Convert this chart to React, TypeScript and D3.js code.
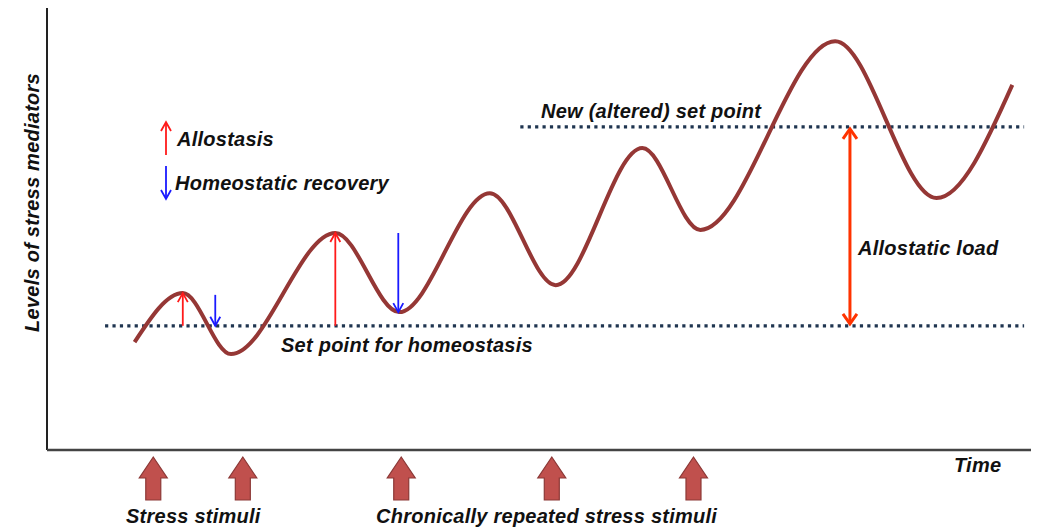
import * as d3 from 'd3'

// Curve of stress-mediator levels over time (extrema)
const curveTime = [8.9, 13.8, 18.7, 29.3, 35.8, 45.0, 51.7, 60.5, 66.4, 80.1, 90.4, 98.1]
const curveLevel = [24.4, 35.5, 21.7, 49.1, 31.2, 58.1, 37.3, 68.3, 49.8, 92.5, 57.0, 82.6]

const setPoint = 28.1
const newSetPoint = 73.1

// stress stimuli along the time axis
const stimuliTime = [10.8, 19.9, 36.0, 51.3, 65.7]

// allostasis (red, up) and recovery (blue, down) arrows
const allostasisArrows = [
  { t: 13.8, from: 28.1, to: 35.5 },
  { t: 29.3, from: 28.1, to: 49.1 },
]
const recoveryArrows = [
  { t: 17.1, from: 35.1, to: 28.1 },
  { t: 35.7, from: 49.1, to: 31.2 },
]
const loadTime = 81.6

const width = 1038
const height = 527
const margin = { left: 47, right: 7, top: 8, bottom: 77 }

const FONT = '"Liberation Sans", Arial, sans-serif'

export default function App() {
  const x = d3.scaleLinear().domain([0, 100]).range([margin.left, width - margin.right])
  const y = d3.scaleLinear().domain([0, 100]).range([height - margin.bottom, margin.top])

  const line = d3
    .line<number>()
    .x((_, i) => x(curveTime[i]))
    .y(d => y(d))
    .curve(d3.curveMonotoneX)

  const textStyle = {
    fontFamily: FONT,
    fontWeight: 700,
    fontStyle: 'italic',
    fontSize: 20,
    letterSpacing: 0.25,
    fill: '#111',
  } as const

  const thinArrow = (key: string, xp: number, y0: number, y1: number, color: string) => {
    const dir = y1 < y0 ? 1 : -1
    return (
      <g key={key} stroke={color} strokeWidth={1.8} fill="none">
        <line x1={xp} x2={xp} y1={y0} y2={y1} />
        <polyline points={`${xp - 5},${y1 + dir * 9} ${xp},${y1} ${xp + 5},${y1 + dir * 9}`} />
      </g>
    )
  }

  const blockArrow = (key: string, cx: number, top: number) => {
    const hw = 14
    const sw = 7.5
    const headH = 21
    const h = 43
    const d = `M${cx},${top} L${cx + hw},${top + headH} L${cx + sw},${top + headH} L${cx + sw},${top + h} L${cx - sw},${top + h} L${cx - sw},${top + headH} L${cx - hw},${top + headH} Z`
    return <path key={key} d={d} fill="#c0504d" stroke="#8c3836" strokeWidth={1.2} />
  }

  const yBase = height - margin.bottom
  const lx = x(loadTime)

  return (
    <svg width={width} height={height} style={{ position: 'absolute', left: 0, top: 0, background: '#fff' }}>
      {/* axes */}
      <line x1={x(0)} x2={x(0)} y1={y(100)} y2={yBase} stroke="#222" strokeWidth={2} />
      <line x1={x(0)} x2={x(100)} y1={yBase} y2={yBase} stroke="#444" strokeWidth={2.5} />

      {/* set point lines */}
      <line x1={x(5.9)} x2={x(99.3)} y1={y(setPoint)} y2={y(setPoint)} stroke="#1f3550" strokeWidth={3.2} strokeDasharray="3.2 4.2" />
      <line x1={x(48.1)} x2={x(99.3)} y1={y(newSetPoint)} y2={y(newSetPoint)} stroke="#1f3550" strokeWidth={3.2} strokeDasharray="3.2 4.2" />

      {/* curve */}
      <path d={line(curveLevel) ?? ''} fill="none" stroke="#953735" strokeWidth={4} />

      {/* allostasis / recovery arrows */}
      {allostasisArrows.map((a, i) => thinArrow(`r${i}`, x(a.t), y(a.from), y(a.to), '#ff1a1a'))}
      {recoveryArrows.map((a, i) => thinArrow(`b${i}`, x(a.t), y(a.from), y(a.to), '#1a1aff'))}

      {/* legend */}
      {thinArrow('lr', 166, 155, 122, '#ff1a1a')}
      {thinArrow('lb', 166, 166, 199, '#1a1aff')}
      <text x={177} y={146} style={textStyle}>Allostasis</text>
      <text x={175} y={190} style={textStyle}>Homeostatic recovery</text>

      {/* allostatic load */}
      <g stroke="#ff3300" strokeWidth={3} fill="none">
        <line x1={lx} x2={lx} y1={y(newSetPoint) + 2} y2={y(setPoint) - 2} />
        <polyline points={`${lx - 7},${y(newSetPoint) + 12} ${lx},${y(newSetPoint) + 2} ${lx + 7},${y(newSetPoint) + 12}`} />
        <polyline points={`${lx - 7},${y(setPoint) - 12} ${lx},${y(setPoint) - 2} ${lx + 7},${y(setPoint) - 12}`} />
      </g>
      <text x={858} y={255} style={textStyle}>Allostatic load</text>

      {/* labels */}
      <text x={541} y={118} style={textStyle}>New (altered) set point</text>
      <text x={281} y={352} style={textStyle}>Set point for homeostasis</text>
      <text x={954} y={472} style={textStyle}>Time</text>
      <text
        transform={`translate(39, ${y(56)}) rotate(-90)`}
        textAnchor="middle"
        style={textStyle}
      >
        Levels of stress mediators
      </text>

      {/* stress stimuli */}
      {stimuliTime.map((t, i) => blockArrow(`s${i}`, x(t), yBase + 7))}
      <text x={126} y={523} style={textStyle}>Stress stimuli</text>
      <text x={376} y={523} style={textStyle}>Chronically repeated stress stimuli</text>
    </svg>
  )
}
